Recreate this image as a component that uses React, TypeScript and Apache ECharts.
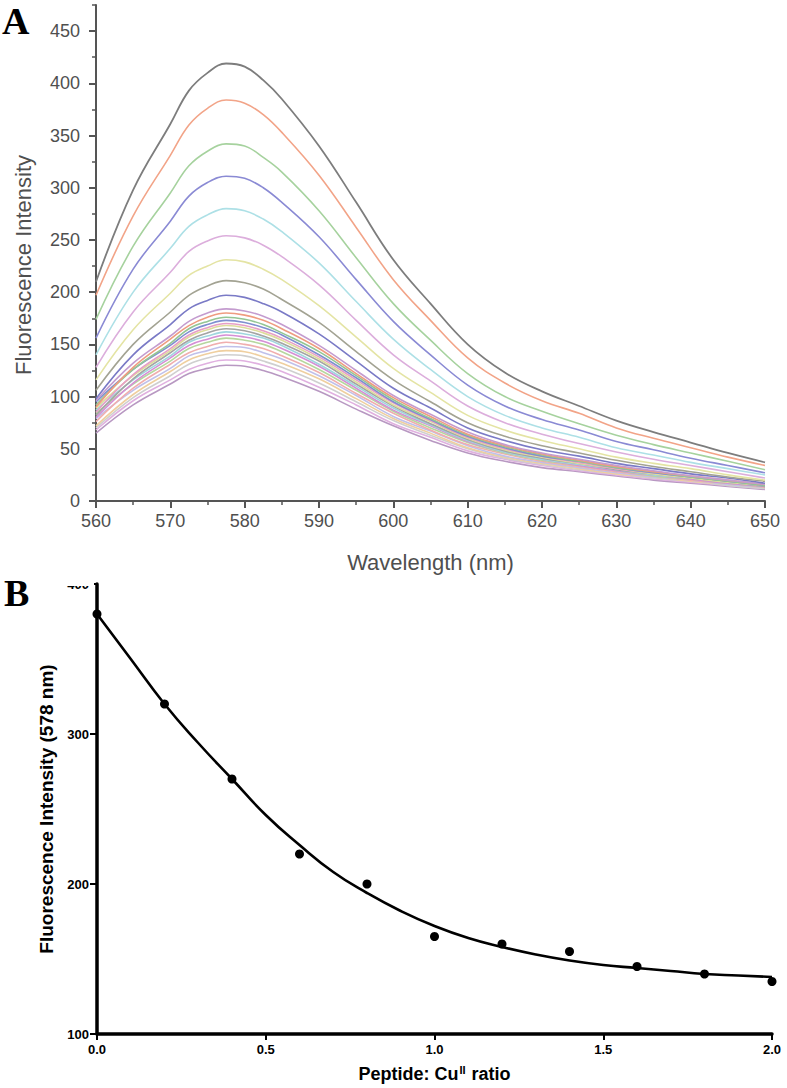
import React, { useEffect, useRef } from "react";
import * as echarts from "echarts";

// ---------- Panel A: emission spectra ----------
const wavelengths = [560, 565, 570, 572.5, 575, 577.5, 580, 582.5, 585, 590, 595, 600, 605, 610, 615, 620, 625, 630, 635, 640, 645, 650];

const spec01 = [210, 298, 361, 393, 410, 419, 416, 403, 385, 340, 286, 231, 189, 150, 123, 105, 91, 77, 66, 56, 46, 37];
const spec02 = [197, 273, 331, 360, 376, 384, 381, 370, 353, 312, 262, 212, 173, 137, 113, 96, 84, 70, 60, 51, 42, 34];
const spec03 = [174, 244, 295, 321, 335, 342, 340, 329, 315, 278, 233, 189, 154, 122, 100, 86, 74, 63, 54, 46, 38, 30];
const spec04 = [156, 222, 268, 292, 305, 311, 309, 300, 286, 253, 212, 172, 140, 111, 91, 78, 68, 57, 49, 41, 34, 27];
const spec05 = [140, 200, 242, 263, 274, 280, 278, 270, 258, 228, 191, 155, 126, 100, 82, 70, 61, 51, 44, 37, 31, 25];
const spec06 = [128, 181, 219, 239, 249, 254, 252, 245, 234, 207, 173, 140, 115, 91, 75, 64, 55, 47, 40, 34, 28, 22];
const spec07 = [116, 164, 199, 216, 225, 231, 229, 222, 212, 187, 157, 127, 104, 82, 68, 58, 50, 42, 36, 31, 25, 20];
const spec08 = [106, 150, 181, 197, 206, 211, 209, 203, 193, 171, 143, 116, 95, 75, 62, 53, 46, 39, 33, 28, 23, 19];
const spec09 = [98, 140, 169, 184, 192, 197, 195, 189, 181, 160, 134, 108, 89, 70, 58, 49, 43, 36, 31, 26, 22, 17];
const spec10 = [96, 132, 158, 172, 180, 184, 182, 177, 169, 149, 125, 101, 83, 66, 54, 46, 40, 34, 29, 24, 20, 16];
const spec11 = [90, 128, 155, 168, 176, 180, 178, 173, 165, 146, 122, 99, 81, 64, 53, 45, 39, 33, 28, 24, 20, 16];
const spec12 = [92, 126, 151, 165, 172, 176, 174, 169, 161, 143, 120, 97, 79, 63, 52, 44, 38, 32, 28, 23, 19, 15];
const spec13 = [95, 126, 149, 162, 169, 173, 171, 166, 159, 140, 118, 95, 78, 62, 51, 43, 38, 32, 27, 23, 19, 15];
const spec14 = [85, 121, 146, 159, 166, 170, 168, 163, 156, 138, 116, 94, 77, 61, 50, 43, 37, 31, 27, 23, 19, 15];
const spec15 = [89, 120, 144, 157, 164, 168, 166, 161, 154, 136, 114, 92, 76, 60, 49, 42, 36, 31, 26, 22, 18, 15];
const spec16 = [82, 117, 142, 154, 161, 165, 163, 158, 151, 134, 112, 91, 74, 59, 48, 41, 36, 30, 26, 22, 18, 14];
const spec17 = [87, 116, 139, 152, 158, 162, 160, 156, 149, 131, 110, 89, 73, 58, 47, 40, 35, 30, 25, 22, 18, 14];
const spec18 = [80, 113, 137, 149, 155, 159, 157, 153, 146, 129, 108, 87, 72, 57, 47, 40, 34, 29, 25, 21, 17, 14];
const spec19 = [84, 112, 134, 146, 152, 156, 154, 150, 143, 126, 106, 86, 70, 56, 46, 39, 34, 29, 24, 21, 17, 14];
const spec20 = [76, 108, 131, 142, 148, 152, 150, 146, 139, 123, 103, 84, 68, 54, 45, 38, 33, 28, 24, 20, 17, 13];
const spec21 = [79, 106, 127, 139, 144, 148, 147, 142, 136, 120, 101, 81, 67, 53, 43, 37, 32, 27, 23, 20, 16, 13];
const spec22 = [72, 102, 124, 135, 141, 144, 143, 138, 132, 117, 98, 79, 65, 51, 42, 36, 31, 26, 23, 19, 16, 13];
const spec23 = [70, 99, 120, 131, 137, 140, 139, 134, 128, 113, 95, 77, 63, 50, 41, 35, 30, 26, 22, 19, 15, 12];
const spec24 = [68, 96, 116, 126, 132, 135, 134, 130, 124, 109, 92, 74, 61, 48, 40, 34, 29, 25, 21, 18, 15, 12];
const spec25 = [65, 92, 112, 122, 127, 130, 129, 125, 119, 105, 88, 72, 58, 46, 38, 32, 28, 24, 20, 17, 14, 11];

const spectra = [
  spec01, spec02, spec03, spec04, spec05, spec06, spec07, spec08, spec09, spec10,
  spec11, spec12, spec13, spec14, spec15, spec16, spec17, spec18, spec19, spec20,
  spec21, spec22, spec23, spec24, spec25,
];

const spectraColors = [
  "#7d7d7d", "#f2a488", "#a6d29e", "#8a8ad4", "#ade0e6", "#dcaedc", "#e4e4a4", "#a3a393", "#7a7ac6",
  "#c49ccf", "#ef9c80", "#94c694", "#7f8fd0", "#e79fc6", "#dedd9c", "#a4a4a4", "#9fd6de", "#d58fd6",
  "#b6d79e", "#f0aeae", "#c0c0ea", "#efcf9f", "#cfcfcf", "#e0b0e0", "#b898c2",
];

const yTicksA = [0, 50, 100, 150, 200, 250, 300, 350, 400, 450];
const yMinorTicksA = [25, 75, 125, 175, 225, 275, 325, 375, 425, 475];

// ---------- Panel B: intensity at 578 nm vs ratio ----------
const ratios = [0, 0.2, 0.4, 0.6, 0.8, 1.0, 1.2, 1.4, 1.6, 1.8, 2.0];
const intensity578 = [380, 320, 270, 220, 200, 165, 160, 155, 145, 140, 135];
const fitRatios = [0, 0.1, 0.2, 0.3, 0.4, 0.5, 0.6, 0.7, 0.8, 0.9, 1.0, 1.1, 1.2, 1.3, 1.4, 1.5, 1.6, 1.7, 1.8, 1.9, 2.0];
const fitValues = [380, 350, 320, 294, 270, 246, 226, 208, 194, 182, 172, 164, 158, 153, 149, 146, 144, 142, 140, 139, 138];

const SANS = "'Liberation Sans', Arial, Helvetica, sans-serif";
const SERIF = "'Liberation Serif', 'Times New Roman', serif";

export default function App() {
  const ref = useRef<HTMLDivElement>(null);

  useEffect(() => {
    if (!ref.current) return;
    const chart = echarts.init(ref.current, undefined, { renderer: "svg" });

    const greyAxis = "#555555";
    const greyText = "#4f4f4f";

    const spectraSeries = spectra.map((arr, i) => ({
      type: "line",
      name: "spectrum " + (i + 1),
      xAxisIndex: 0,
      yAxisIndex: 0,
      data: arr.map((v, j) => [wavelengths[j], v]),
      showSymbol: false,
      smooth: 0.4,
      silent: true,
      lineStyle: { color: spectraColors[i], width: i === 0 ? 1.8 : 1.6 },
      z: 30 - i,
    }));

    const option: any = {
      animation: false,
      backgroundColor: "#ffffff",
      grid: [
        { left: 96, top: 5, right: 22, height: 496 },
        { left: 97, top: 584, right: 15, height: 450 },
      ],
      xAxis: [
        {
          type: "value",
          gridIndex: 0,
          min: 560,
          max: 650,
          interval: 10,
          name: "Wavelength (nm)",
          nameLocation: "middle",
          nameGap: 50,
          nameTextStyle: { fontFamily: SANS, fontSize: 22, color: greyText },
          axisLine: { lineStyle: { color: greyAxis, width: 2 } },
          axisTick: { length: 7, lineStyle: { color: greyAxis, width: 2 } },
          minorTick: { show: true, splitNumber: 2, length: 4, lineStyle: { color: greyAxis, width: 1.5 } },
          axisLabel: { fontFamily: SANS, fontSize: 18, color: greyText, margin: 11 },
          splitLine: { show: false },
        },
        {
          type: "value",
          gridIndex: 1,
          min: 0,
          max: 2,
          interval: 0.5,
          name: "Peptide: Cu{sup|II} ratio",
          nameLocation: "middle",
          nameGap: 30,
          nameTextStyle: {
            fontFamily: SANS,
            fontSize: 18,
            fontWeight: "bold",
            color: "#000",
            rich: {
              sup: { fontFamily: SANS, fontSize: 11, fontWeight: "bold", color: "#000", verticalAlign: "top", padding: [0, 1, 8, 1] },
            },
          },
          axisLine: { lineStyle: { color: "#000", width: 3.5 } },
          axisTick: { length: 6, lineStyle: { color: "#000", width: 2 } },
          axisLabel: {
            fontFamily: SANS,
            fontSize: 13,
            fontWeight: "bold",
            color: "#000",
            margin: 9,
            formatter: (v: number) => v.toFixed(1),
          },
          splitLine: { show: false },
        },
      ],
      yAxis: [
        {
          type: "value",
          gridIndex: 0,
          position: "left",
          min: 0,
          max: 475,
          name: "Fluorescence Intensity",
          nameLocation: "middle",
          nameGap: 62,
          nameTextStyle: { fontFamily: SANS, fontSize: 22, color: greyText, padding: [0, 24, 0, 0] },
          axisLine: { lineStyle: { color: greyAxis, width: 2 } },
          axisTick: { length: 7, customValues: yTicksA, lineStyle: { color: greyAxis, width: 2 } },
          axisLabel: { customValues: yTicksA, fontFamily: SANS, fontSize: 18, color: greyText, margin: 16 },
          splitLine: { show: false },
        },
        {
          type: "value",
          gridIndex: 0,
          position: "left",
          offset: 0,
          min: 0,
          max: 475,
          axisLine: { show: false },
          axisTick: { show: true, length: 4, customValues: yMinorTicksA, lineStyle: { color: greyAxis, width: 1.5 } },
          axisLabel: { show: false },
          splitLine: { show: false },
        },
        {
          type: "value",
          gridIndex: 1,
          position: "left",
          min: 100,
          max: 400,
          interval: 100,
          name: "Fluorescence Intensity (578 nm)",
          nameLocation: "middle",
          nameGap: 30,
          nameTextStyle: { fontFamily: SANS, fontSize: 19, fontWeight: "bold", color: "#000" },
          axisLine: { lineStyle: { color: "#000", width: 3.5 } },
          axisTick: { length: 7, lineStyle: { color: "#000", width: 2 } },
          axisLabel: { fontFamily: SANS, fontSize: 13, fontWeight: "bold", color: "#000", margin: 8 },
          splitLine: { show: false },
        },
      ],
      graphic: [
        { type: "rect", shape: { x: 50, y: 560, width: 44, height: 26 }, style: { fill: "#ffffff" }, z: 100 },
        { type: "text", left: 2, top: 2, z: 101, style: { text: "A", font: `bold 38px ${SERIF}`, fill: "#000" } },
        { type: "text", left: 4, top: 574, z: 101, style: { text: "B", font: `bold 38px ${SERIF}`, fill: "#000" } },
      ],
      series: [
        ...spectraSeries,
        {
          type: "line",
          name: "fit",
          xAxisIndex: 1,
          yAxisIndex: 2,
          data: fitRatios.map((r, i) => [r, fitValues[i]]),
          showSymbol: false,
          smooth: true,
          silent: true,
          lineStyle: { color: "#000", width: 2.6 },
        },
        {
          type: "scatter",
          name: "data",
          xAxisIndex: 1,
          yAxisIndex: 2,
          data: ratios.map((r, i) => [r, intensity578[i]]),
          symbol: "circle",
          symbolSize: 9,
          silent: true,
          itemStyle: { color: "#000", opacity: 1 },
          z: 10,
        },
      ],
    };

    chart.setOption(option);
    return () => chart.dispose();
  }, []);

  return (
    <div
      ref={ref}
      style={{ position: "fixed", left: 0, top: 0, width: 787, height: 1088, background: "#fff" }}
    />
  );
}
